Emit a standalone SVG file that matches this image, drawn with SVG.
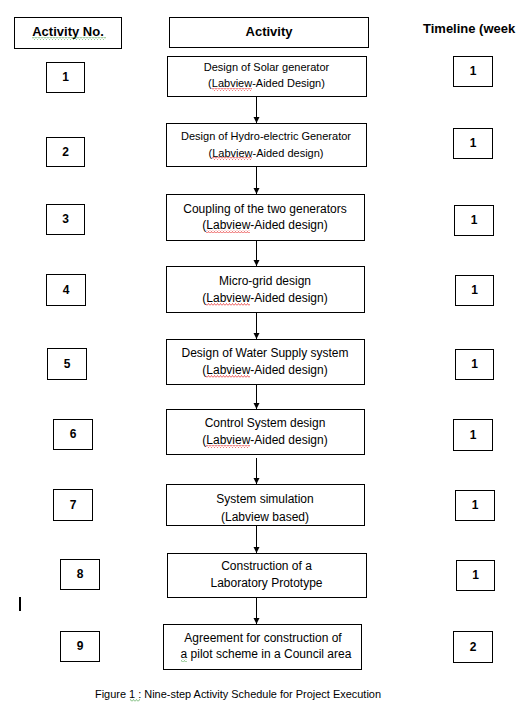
<svg xmlns="http://www.w3.org/2000/svg" width="518" height="712" viewBox="0 0 518 712">
<style>
.box{fill:#fff;stroke:#000;stroke-width:1}
.hd{font-family:"Liberation Sans",Arial,sans-serif;font-weight:bold;font-size:13px;fill:#000}
.num{font-family:"Liberation Sans",Arial,sans-serif;font-weight:bold;font-size:12px;fill:#000;text-anchor:middle}
.t11{font-family:"Liberation Sans",Arial,sans-serif;font-size:11px;fill:#000;text-anchor:middle}
.t12{font-family:"Liberation Sans",Arial,sans-serif;font-size:12px;fill:#000;text-anchor:middle}
.cap{font-family:"Liberation Sans",Arial,sans-serif;font-size:10.5px;fill:#000;text-anchor:middle}
.conn line{stroke:#000;stroke-width:1;marker-end:url(#ah)}
.sqr{fill:url(#wr)}
.sqg{fill:url(#wg)}
</style>
<defs>
<marker id="ah" markerUnits="userSpaceOnUse" markerWidth="7" markerHeight="7" refX="6" refY="3" orient="auto">
<path d="M0,0 L6,3 L0,6 z" fill="#000"/>
</marker>
<pattern id="wr" patternUnits="userSpaceOnUse" width="3" height="3">
<path d="M0,2.5 L1.5,0.5 L3,2.5" fill="none" stroke="#e00000" stroke-width="0.6"/>
</pattern>
<pattern id="wg" patternUnits="userSpaceOnUse" width="3" height="3">
<path d="M0,2.5 L1.5,0.5 L3,2.5" fill="none" stroke="#3c9a3c" stroke-width="0.6"/>
</pattern>
</defs>
<rect width="518" height="712" fill="#fff"/>

<g id="header-activity-no">
<rect class="box" x="14.5" y="17.5" width="107" height="31"/>
<text class="hd" x="68" y="36" text-anchor="middle">Activity No.</text>
<rect class="sqg" x="32" y="37" width="74" height="3"/>
</g>
<g id="header-activity">
<rect class="box" x="169.5" y="17.5" width="199" height="30"/>
<text class="hd" x="269" y="36" text-anchor="middle">Activity</text>
</g>
<g id="header-timeline">
<text class="hd" x="423" y="33">Timeline (week</text>
</g>

<g id="connectors" class="conn">
<line x1="256.5" y1="97" x2="256.5" y2="123"/>
<line x1="256.5" y1="166" x2="256.5" y2="194"/>
<line x1="256.5" y1="240" x2="256.5" y2="266"/>
<line x1="256.5" y1="312" x2="256.5" y2="339"/>
<line x1="256.5" y1="384" x2="256.5" y2="409"/>
<line x1="256.5" y1="458" x2="256.5" y2="484"/>
<line x1="256.5" y1="525" x2="256.5" y2="553"/>
<line x1="256.5" y1="597" x2="256.5" y2="624"/>
</g>

<g id="step1">
<rect class="box" x="167.5" y="56.5" width="199" height="40"/>
<text class="t11" x="266.5" y="71">Design of Solar generator</text>
<text class="t11" x="266.5" y="87">(Labview-Aided Design)</text>
<rect class="sqr" x="212" y="88" width="40" height="3"/>
</g>
<g id="step2">
<rect class="box" x="166.5" y="123.5" width="200" height="43"/>
<text class="t11" x="266" y="140">Design of Hydro-electric Generator</text>
<text class="t11" x="266" y="156.5">(Labview-Aided design)</text>
<rect class="sqr" x="212" y="157" width="40" height="3"/>
</g>
<g id="step3">
<rect class="box" x="166.5" y="194.5" width="198" height="46"/>
<text class="t12" x="265" y="213">Coupling of the two generators</text>
<text class="t12" x="265" y="229">(Labview-Aided design)</text>
<rect class="sqr" x="206" y="230" width="44" height="3"/>
</g>
<g id="step4">
<rect class="box" x="166.5" y="266.5" width="198" height="46"/>
<text class="t12" x="265" y="285">Micro-grid design</text>
<text class="t12" x="265" y="302">(Labview-Aided design)</text>
<rect class="sqr" x="206" y="303" width="44" height="3"/>
</g>
<g id="step5">
<rect class="box" x="166.5" y="339.5" width="198" height="45"/>
<text class="t12" x="265" y="357">Design of Water Supply system</text>
<text class="t12" x="265" y="374">(Labview-Aided design)</text>
<rect class="sqr" x="206" y="375" width="44" height="3"/>
</g>
<g id="step6">
<rect class="box" x="166.5" y="409.5" width="198" height="45"/>
<text class="t12" x="265" y="427">Control System design</text>
<text class="t12" x="265" y="444">(Labview-Aided design)</text>
<rect class="sqr" x="206" y="445" width="44" height="3"/>
</g>
<g id="step7">
<rect class="box" x="166.5" y="484.5" width="198" height="41"/>
<text class="t12" x="265" y="503">System simulation</text>
<text class="t12" x="265" y="521">(Labview based)</text>
</g>
<g id="step8">
<rect class="box" x="167.5" y="553.5" width="199" height="44"/>
<text class="t12" x="266.5" y="570">Construction of a</text>
<text class="t12" x="266.5" y="587">Laboratory Prototype</text>
</g>
<g id="step9">
<rect class="box" x="163.5" y="624.5" width="198" height="45"/>
<text class="t12" x="263" y="642">Agreement for construction of</text>
<text class="t12" x="266" y="658">a pilot scheme in a Council area</text>
<rect class="sqg" x="181" y="659" width="6" height="3"/>
</g>

<g id="activity-numbers">
<g id="n1"><rect class="box" x="46.5" y="62.5" width="38" height="30"/><text class="num" x="65.5" y="81">1</text></g>
<g id="n2"><rect class="box" x="46.5" y="137.5" width="38" height="29"/><text class="num" x="65.5" y="156">2</text></g>
<g id="n3"><rect class="box" x="46.5" y="204.5" width="38" height="30"/><text class="num" x="65.5" y="223">3</text></g>
<g id="n4"><rect class="box" x="46.5" y="274.5" width="39" height="31"/><text class="num" x="66" y="294">4</text></g>
<g id="n5"><rect class="box" x="47.5" y="348.5" width="39" height="31"/><text class="num" x="67" y="368">5</text></g>
<g id="n6"><rect class="box" x="53.5" y="419.5" width="39" height="30"/><text class="num" x="73" y="438">6</text></g>
<g id="n7"><rect class="box" x="53.5" y="489.5" width="39" height="31"/><text class="num" x="73" y="509">7</text></g>
<g id="n8"><rect class="box" x="60.5" y="559.5" width="39" height="30"/><text class="num" x="80" y="578">8</text></g>
<g id="n9"><rect class="box" x="60.5" y="631.5" width="39" height="30"/><text class="num" x="80" y="650">9</text></g>
</g>

<g id="timelines">
<g id="w1"><rect class="box" x="453.5" y="56.5" width="39" height="30"/><text class="num" x="473" y="75">1</text></g>
<g id="w2"><rect class="box" x="453.5" y="128.5" width="39" height="30"/><text class="num" x="473" y="147">1</text></g>
<g id="w3"><rect class="box" x="454.5" y="205.5" width="39" height="30"/><text class="num" x="474" y="224">1</text></g>
<g id="w4"><rect class="box" x="455.5" y="275.5" width="38" height="30"/><text class="num" x="474.5" y="294">1</text></g>
<g id="w5"><rect class="box" x="455.5" y="349.5" width="38" height="30"/><text class="num" x="474.5" y="368">1</text></g>
<g id="w6"><rect class="box" x="453.5" y="419.5" width="39" height="31"/><text class="num" x="473" y="439">1</text></g>
<g id="w7"><rect class="box" x="455.5" y="490.5" width="39" height="30"/><text class="num" x="475" y="509">1</text></g>
<g id="w8"><rect class="box" x="456.5" y="560.5" width="38" height="30"/><text class="num" x="475.5" y="579">1</text></g>
<g id="w9"><rect class="box" x="453.5" y="631.5" width="39" height="31"/><text class="num" x="473" y="651">2</text></g>
</g>

<rect x="19" y="597" width="2" height="14" fill="#000"/>

<g id="caption">
<text class="cap" x="238" y="698" textLength="286" lengthAdjust="spacingAndGlyphs">Figure 1 : Nine-step Activity Schedule for Project Execution</text>
<rect class="sqg" x="130" y="699" width="10" height="3"/>
</g>
</svg>
